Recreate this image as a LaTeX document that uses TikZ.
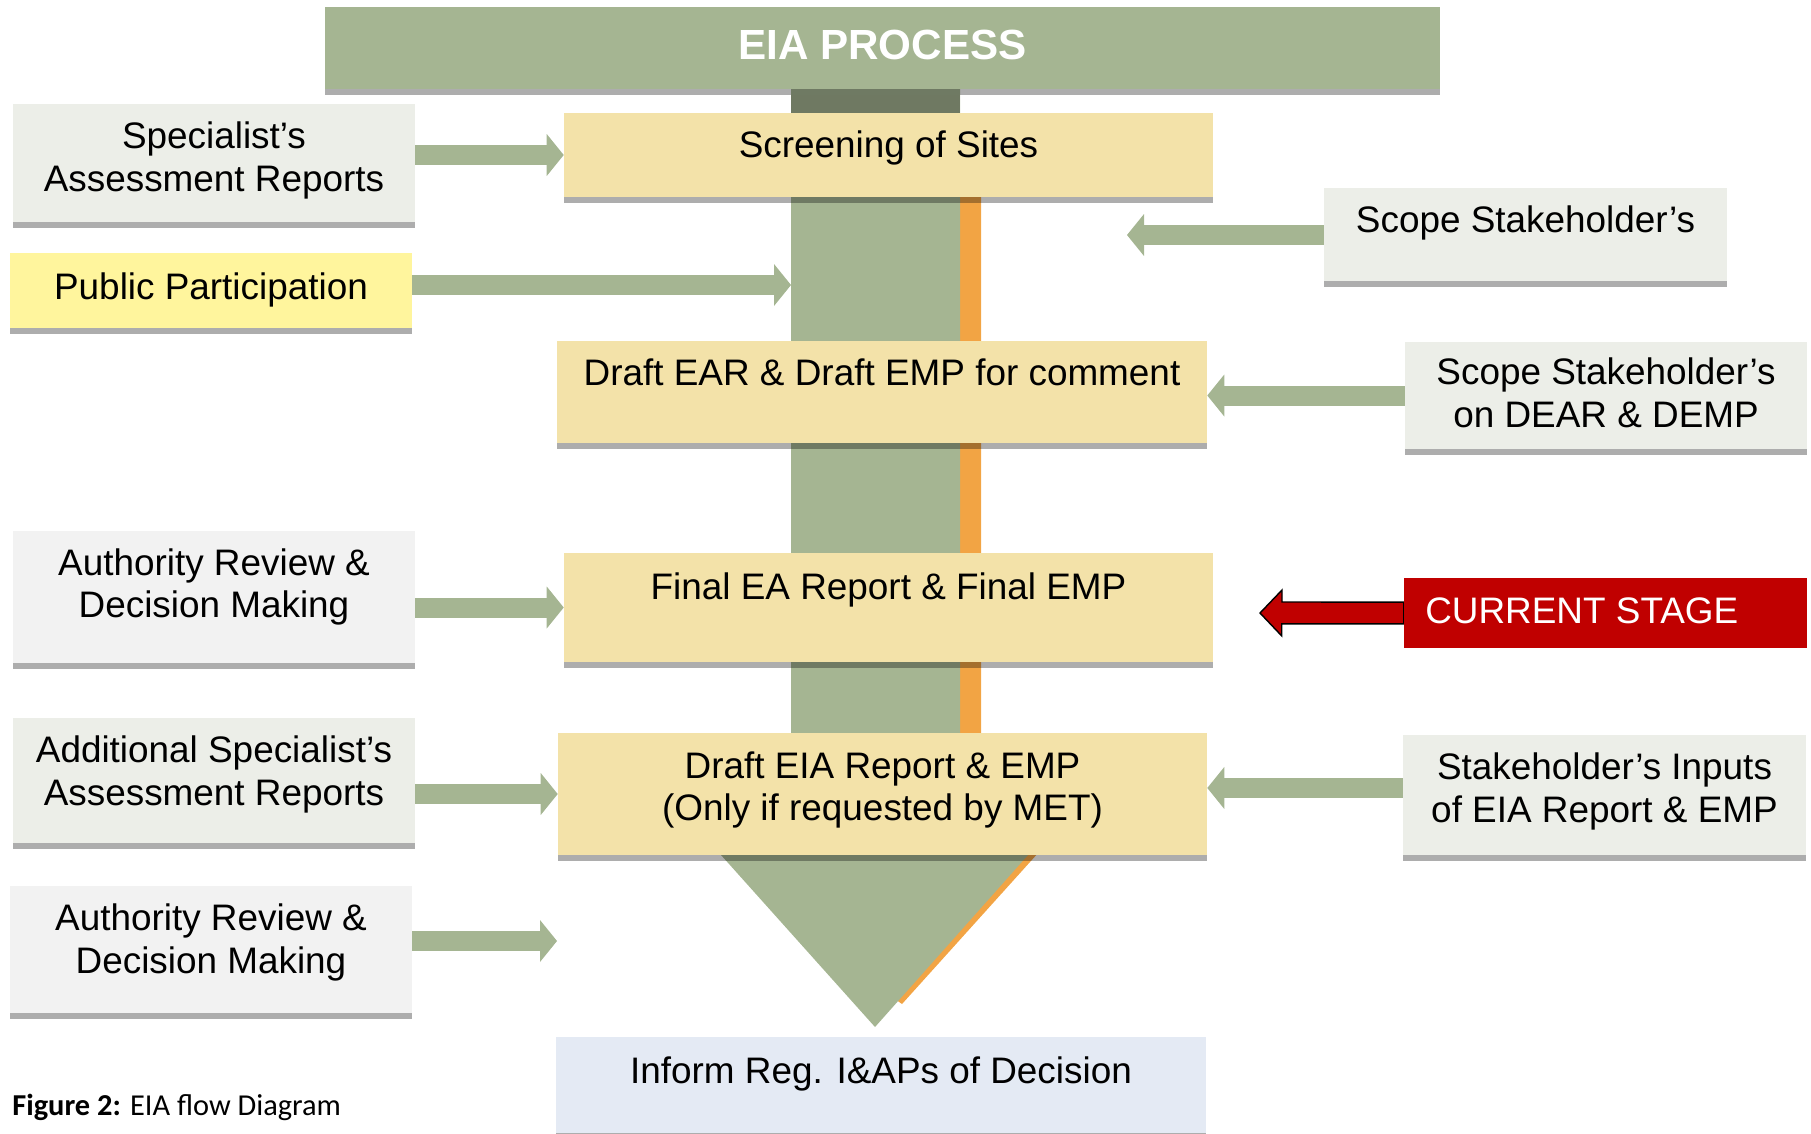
\documentclass[tikz,border=0pt]{standalone}
\usepackage{fontspec}
\setmainfont{Liberation Sans}
\newfontfamily\capfont{Carlito}
\usetikzlibrary{arrows.meta,shadows,backgrounds}

\definecolor{flowgreen}{HTML}{A5B592}
\definecolor{trunkdark}{HTML}{6F7962}
\definecolor{trunkorange}{HTML}{F2A444}
\definecolor{stagefill}{HTML}{F3E2A9}
\definecolor{inputfill}{HTML}{ECEEE8}
\definecolor{reviewfill}{HTML}{F2F2F2}
\definecolor{publicfill}{HTML}{FFF59D}
\definecolor{informfill}{HTML}{E4EAF4}
\definecolor{stagered}{HTML}{C00000}

% text of a box, lifted from the middle of the box
\newcommand{\boxtext}[2]{\raisebox{#1}[0pt][0pt]{\begin{tabular}{@{}c@{}}#2\end{tabular}}}

\begin{document}
\begin{tikzpicture}[
    x=0.02cm, y=-0.02cm,
    plainbox/.style={
      rectangle,
      inner sep=0pt,
      font=\fontsize{21}{24.4}\selectfont,
      drop shadow={shadow xshift=0pt, shadow yshift=-0.12cm, fill=black, opacity=0.32}},
    inbox/.style={plainbox, fill=inputfill, minimum width=8.04cm},
    reviewbox/.style={plainbox, fill=reviewfill, minimum width=8.04cm},
    publicbox/.style={plainbox, fill=publicfill, minimum width=8.04cm},
    stagebox/.style={plainbox, fill=stagefill, minimum width=12.98cm},
    informbox/.style={plainbox, fill=informfill, minimum width=13cm},
    headbox/.style={plainbox, fill=flowgreen, text=white,
      font=\fontsize{24}{28}\selectfont\bfseries},
    redbox/.style={rectangle, inner sep=0pt, fill=stagered, text=white,
      font=\fontsize{21}{24}\selectfont},
    flowarrow/.style={draw=flowgreen, line width=0.4cm,
      -{Triangle[length=0.34cm, width=0.84cm, line width=0pt]}},
    redarrow/.style={fill=stagered, draw=black, line width=0.8pt, line join=miter}
    ]

  \useasboundingbox (0,0) rectangle (1811,1133);

  \node at (882.5,48) (head) [headbox, minimum width=22.3cm, minimum height=1.64cm] {\boxtext{-7pt}{EIA PROCESS}};

  \node at (214,163) (spec) [inbox, minimum height=2.36cm] {\boxtext{-4.5pt}{Specialist’s\\Assessment Reports}};
  \node at (211,290.5) (pub) [publicbox, minimum height=1.5cm] {\boxtext{-5.3pt}{Public Participation}};
  \node at (214,597) (auth1) [reviewbox, minimum height=2.64cm] {\boxtext{0pt}{Authority Review \&\\Decision Making}};
  \node at (214,780.5) (addl) [inbox, minimum height=2.5cm] {\boxtext{-2.5pt}{Additional Specialist’s\\Assessment Reports}};
  \node at (211,949.5) (auth2) [reviewbox, minimum height=2.54cm] {\boxtext{-1.9pt}{Authority Review \&\\Decision Making}};

  \node at (888.5,155) (screen) [stagebox, minimum height=1.68cm] {\boxtext{-1.9pt}{Screening of Sites}};
  \node at (882,392) (dear) [stagebox, minimum width=13cm, minimum height=2.04cm] {\boxtext{3.2pt}{Draft EAR \& Draft EMP for comment}};
  \node at (888.5,607.5) (final) [stagebox, minimum height=2.18cm] {\boxtext{4pt}{Final EA Report \& Final EMP}};
  \node at (882.5,794) (eia) [stagebox, minimum height=2.44cm] {\boxtext{-3.4pt}{Draft EIA Report \& EMP\\(Only if requested by MET)}};
  \node at (881,1085) (inform) [informbox, minimum height=1.92cm] {\boxtext{0.6pt}{Inform Reg. I\&APs of Decision}};

  \node at (1525.5,234.5) (scope1) [inbox, minimum width=8.06cm, minimum height=1.86cm] {\boxtext{0.6pt}{Scope Stakeholder’s}};
  \node at (1606,395.5) (scope2) [inbox, minimum height=2.14cm] {\boxtext{-6.5pt}{Scope Stakeholder’s\\on DEAR \& DEMP}};
  \node at (1605.5,613) (current) [redbox, minimum width=8.06cm, minimum height=1.4cm] {\boxtext{-6.5pt}{CURRENT STAGE\hspace*{27pt}}};
  \node at (1604.5,795) (inputs) [inbox, minimum width=8.06cm, minimum height=2.4cm] {\boxtext{-3.6pt}{Stakeholder’s Inputs\\of EIA Report \& EMP}};

  \node at (12,1115) (caption) [anchor=base west, inner sep=0pt, font=\fontsize{17.3}{20}\selectfont\capfont] {\textbf{Figure 2:} EIA flow Diagram};

  % loose ends of the arrows
  \coordinate (trunkside) at (791,285);
  \coordinate (scopeend) at (1127,235);
  \coordinate (pointer) at (1260,613);
  \coordinate (noend) at (557,941);

  \begin{pgfonlayer}{background}
    % the big process arrow behind the boxes
    \fill[trunkorange] (960,197) -- (981,197) -- (981,852) -- (1039,852) -- (902,1004) -- (875,985) -- (960,852) -- cycle;
    \fill[flowgreen] (791,60) -- (960,60) -- (960,855) -- (1028,855) -- (875,1027) -- (721,855) -- (791,855) -- cycle;
    \fill[trunkdark] (791,95) rectangle (960,113);
    \draw[redarrow] (pointer) -- ++(22,-23) -- ++(0,12) -- ([yshift=6.2pt]current.west)
      -- ([yshift=-6.2pt]current.west) -- ++(-122,0) -- ++(0,12) -- cycle;
  \end{pgfonlayer}

  \draw[flowarrow] (spec.east |- screen.west) -- (screen.west);
  \draw[flowarrow] (pub.east |- trunkside) -- (trunkside);
  \draw[flowarrow] (auth1.east |- final.west) -- (final.west);
  \draw[flowarrow] (addl.east |- eia.west) -- (eia.west);
  \draw[flowarrow] (auth2.east |- noend) -- (noend);
  \draw[flowarrow] (scope1.west |- scopeend) -- (scopeend);
  \draw[flowarrow] (scope2.west) -- (scope2.west -| dear.east);
  \draw[flowarrow] ([yshift=4pt]inputs.west) -- ([yshift=4pt]inputs.west -| eia.east);

\end{tikzpicture}
\end{document}
